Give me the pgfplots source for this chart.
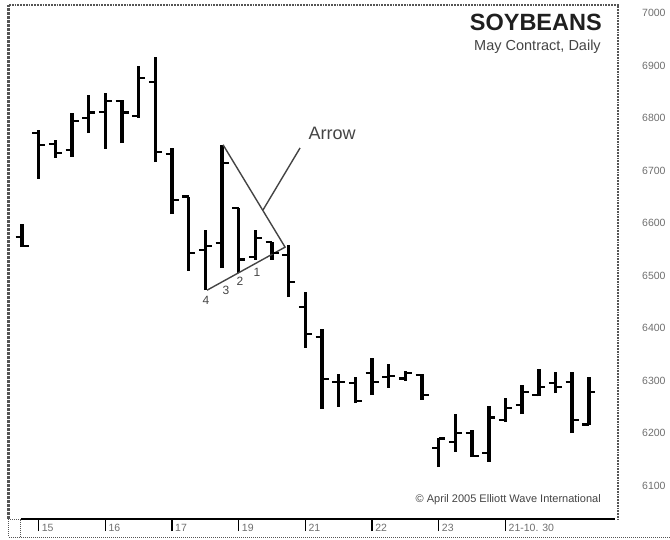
\documentclass[border=0pt]{standalone}
\usepackage{fontspec}
\setmainfont{Liberation Sans}
\usepackage{pgfplots}
\pgfplotsset{compat=1.18}
\usepackage{pgfplotstable}
\definecolor{txtgray}{HTML}{444444}
\definecolor{lblgray}{HTML}{6E6E6E}
\definecolor{framegray}{HTML}{555555}
\pgfdeclareplotmark{ltick}{\pgfpathmoveto{\pgfqpoint{-6.5pt}{0pt}}\pgfpathlineto{\pgfqpoint{0pt}{0pt}}\pgfusepathqstroke}
\pgfdeclareplotmark{rtick}{\pgfpathmoveto{\pgfqpoint{0pt}{0pt}}\pgfpathlineto{\pgfqpoint{6.5pt}{0pt}}\pgfusepathqstroke}
\pgfplotstableread{
i o h l c
0 6573 6598 6554 6556
1 6771 6777 6684 6749
2 6750 6758 6724 6733
3 6739 6810 6726 6794
4 6800 6844 6771 6810
5 6811 6848 6741 6832
6 6832 6834 6752 6810
7 6804 6899 6800 6876
8 6869 6916 6716 6735
9 6731 6743 6617 6644
10 6650 6650 6509 6543
11 6549 6587 6472 6556
12 6562 6749 6514 6714
13 6629 6629 6505 6530
14 6535 6587 6530 6571
15 6564 6564 6530 6543
16 6539 6558 6459 6488
17 6440 6469 6362 6389
18 6383 6398 6246 6303
19 6297 6312 6250 6297
20 6295 6307 6257 6261
21 6314 6343 6272 6297
22 6307 6331 6286 6309
23 6304 6318 6300 6314
24 6310 6312 6263 6272
25 6171 6190 6135 6190
26 6183 6236 6164 6200
27 6200 6206 6154 6156
28 6162 6251 6145 6230
29 6225 6267 6221 6248
30 6253 6291 6236 6278
31 6272 6322 6270 6288
32 6295 6316 6276 6288
33 6297 6316 6200 6225
34 6216 6307 6216 6278
}\data
\begin{document}
\begin{tikzpicture}
\begin{axis}[
  scale only axis, width=609pt, height=514pt,
  xmin=-0.78, xmax=35.75, ymin=6036.2, ymax=7015.2,
  axis line style={draw=none},
  clip=false,
  xtick={1,5,9,13,17,21,25,29},
  xticklabels={15,16,17,19,21,22,23,{21-10. 30}},
  xtick pos=bottom, tick align=outside, major tick length=12pt,
  xtick style={black, line width=1.3pt},
  xticklabel style={anchor=west, xshift=3pt, yshift=3pt, inner sep=0pt, font=\fontsize{10.5}{12}\selectfont, text=lblgray},
  ytick={6100,6200,6300,6400,6500,6600,6700,6800,6900,7000},
  ytick pos=right, yticklabel pos=right,
  ytick style={draw=none},
  yticklabel style={anchor=west, xshift=12pt, inner sep=0pt, font=\fontsize{10.5}{12}\selectfont, text=lblgray},
  /pgf/number format/assume math mode=true,
  /pgf/number format/1000 sep={},
  /pgf/number format/fixed, /pgf/number format/precision=0,
]
\addplot[black, line width=3.4pt, -, quiver={u=0, v=\thisrow{h}-\thisrow{l}}] table[x=i, y=l] {\data};
\addplot[only marks, mark=ltick, mark options={line width=2.5pt, black}] table[x=i, y=o] {\data};
\addplot[only marks, mark=rtick, mark options={line width=2.5pt, black}] table[x=i, y=c] {\data};
% annotations
\draw[txtgray, line width=1.4pt, line join=miter] (axis cs:11.1,6472) -- (axis cs:15.78,6554) -- (axis cs:12.06,6749);
\draw[txtgray, line width=1.4pt] (axis cs:14.46,6625) -- (axis cs:16.68,6743);
\node[text=txtgray, font=\fontsize{18}{20}\selectfont] at (axis cs:18.6,6771) {Arrow};
\node[text=txtgray, font=\fontsize{12}{14}\selectfont] at (axis cs:11.04,6453) {4};
\node[text=txtgray, font=\fontsize{12}{14}\selectfont] at (axis cs:12.24,6472) {3};
\node[text=txtgray, font=\fontsize{12}{14}\selectfont] at (axis cs:13.08,6488) {2};
\node[text=txtgray, font=\fontsize{12}{14}\selectfont] at (axis cs:14.1,6505) {1};
\node[anchor=east, inner sep=0pt, text=black!88, font=\bfseries\fontsize{23.5}{26}\selectfont] at (rel axis cs:0.9737,0.967) {SOYBEANS};
\node[anchor=east, inner sep=0pt, text=txtgray, font=\fontsize{14.5}{16}\selectfont] at (rel axis cs:0.972,0.918) {May Contract, Daily};
\node[anchor=east, inner sep=0pt, text=txtgray, font=\fontsize{11}{13}\selectfont] at (rel axis cs:0.972,0.037) {\textcopyright{} April 2005 Elliott Wave International};
\end{axis}
% frame
\draw[framegray, densely dotted, line width=3pt] (current axis.south west) -- (current axis.north west);
\draw[framegray, densely dotted, line width=1.8pt] (current axis.north west) -- (current axis.north east) -- (current axis.south east);
\draw[black, line width=2.5pt] ([xshift=12pt]current axis.south west) -- ([xshift=606pt]current axis.south west);
\draw[framegray, densely dotted, line width=1pt] (current axis.south west) rectangle ([xshift=12pt,yshift=-18pt]current axis.south west);
\draw[framegray, densely dotted, line width=1pt] ([yshift=-18pt]current axis.south west) -- ([xshift=661pt,yshift=-18pt]current axis.south west);
\pgfresetboundingbox
\path[use as bounding box] ([xshift=-9pt,yshift=-20pt]current axis.south west) rectangle ([xshift=661pt,yshift=519pt]current axis.south west);
\end{tikzpicture}
\end{document}
